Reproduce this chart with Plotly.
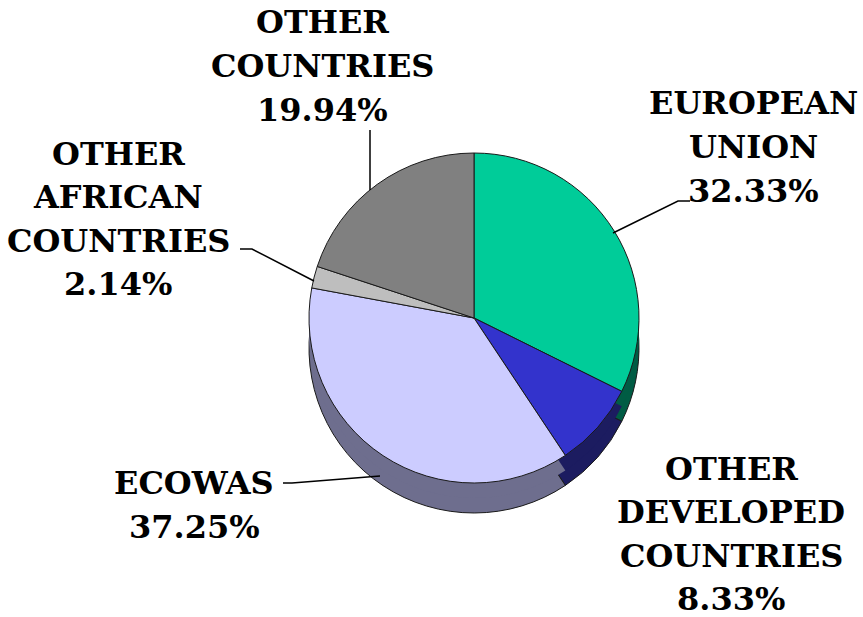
import math
import plotly.graph_objects as go

W, H = 863, 617

categories = ["EUROPEAN UNION", "OTHER DEVELOPED COUNTRIES", "ECOWAS",
              "OTHER AFRICAN COUNTRIES", "OTHER COUNTRIES"]
shares = [32.33, 8.33, 37.25, 2.14, 19.94]
top_colors = ["#00CC99", "#3333CC", "#CCCCFF", "#BEBEBE", "#808080"]
side_colors = ["#005C44", "#1C1C60", "#6E6E8E", "#6A6A6A", "#4A4A4A"]

# label lines (text stays real text); label centre positions in pixels
label_lines = [
    ["EUROPEAN", "UNION", "32.33%"],
    ["OTHER", "DEVELOPED", "COUNTRIES", "8.33%"],
    ["ECOWAS", "37.25%"],
    ["OTHER", "AFRICAN", "COUNTRIES", "2.14%"],
    ["OTHER", "COUNTRIES", "19.94%"],
]
label_centers = [(753, 147), (731, 534), (194, 505), (118, 219), (322, 66)]

CX, CY, R, DEPTH = 474, 318, 165, 30
FONT = "DejaVu Serif"


def domain(cx, cy, r):
    return dict(x=[(cx - r) / W, (cx + r) / W],
                y=[1 - (cy + r) / H, 1 - (cy - r) / H])


def P(x, y):
    return x / W, 1 - y / H


fig = go.Figure()
# side wall (lower layers of the disc)
fig.add_trace(go.Pie(labels=categories, values=shares, sort=False,
                     direction="clockwise", rotation=0,
                     marker=dict(colors=side_colors, line=dict(color="#1a1a1a", width=1)),
                     textinfo="none", hoverinfo="skip", showlegend=False,
                     domain=domain(CX, CY + DEPTH, R)))
fig.add_trace(go.Pie(labels=categories, values=shares, sort=False,
                     direction="clockwise", rotation=0,
                     marker=dict(colors=side_colors, line=dict(width=0)),
                     textinfo="none", hoverinfo="skip", showlegend=False,
                     domain=domain(CX, CY + DEPTH / 2, R)))
# top face
fig.add_trace(go.Pie(labels=categories, values=shares, sort=False,
                     direction="clockwise", rotation=0,
                     marker=dict(colors=top_colors, line=dict(color="#1a1a1a", width=1)),
                     textinfo="none", hoverinfo="label+percent", showlegend=False,
                     domain=domain(CX, CY, R)))

annotations = []
LS = 43.6
for lines, (lx, ly) in zip(label_lines, label_centers):
    n = len(lines)
    for i, t in enumerate(lines):
        yy = ly + (i - (n - 1) / 2) * LS
        x0, y0 = P(lx, yy)
        annotations.append(dict(x=x0, y=y0, xref="paper", yref="paper",
                                text="<b>%s</b>" % t, showarrow=False,
                                xanchor="center", yanchor="middle",
                                font=dict(family=FONT, size=32, color="black")))

# leader lines (pixel paths)
leaders = [
    [(690, 201), (678, 201), (613, 233)],
    [(240, 249), (252, 249), (314, 281)],
    [(283, 483), (292, 483), (380, 476)],
    [(370, 130), (370, 190)],
]
shapes = []
for pts in leaders:
    path = "M " + " L ".join("%f,%f" % P(x, y) for x, y in pts)
    shapes.append(dict(type="path", xref="paper", yref="paper", path=path,
                       line=dict(color="black", width=1.5)))

fig.update_layout(width=W, height=H, margin=dict(l=0, r=0, t=0, b=0),
                  paper_bgcolor="white", plot_bgcolor="white",
                  annotations=annotations, shapes=shapes)
fig.write_html("out.html")
